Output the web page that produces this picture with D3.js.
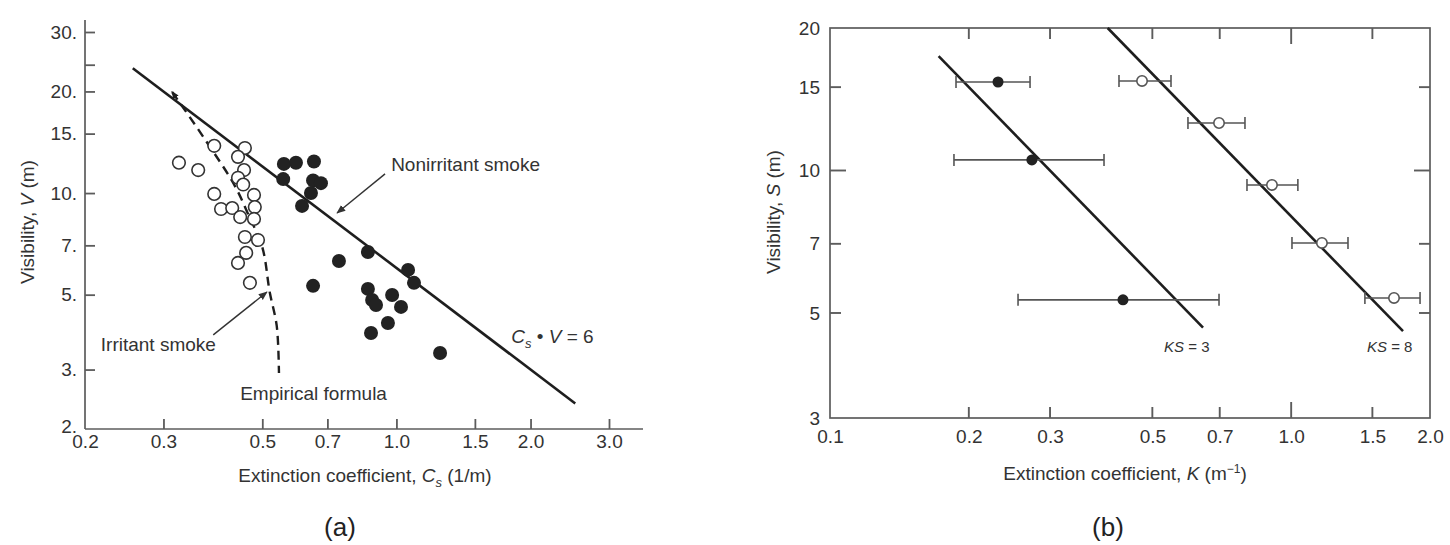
<!DOCTYPE html>
<html>
<head>
<meta charset="utf-8">
<script src="https://cdn.jsdelivr.net/npm/d3@7"></script>
<style>
  body { margin: 0; background: #fff; }
  svg { display: block; font-family: "Liberation Sans", Arial, Helvetica, sans-serif; }
</style>
</head>
<body>
<svg id="chart" width="1450" height="545"></svg>
<script>
// ---------- Panel (a): visibility vs extinction coefficient ----------
const aTicksX = [0.2, 0.3, 0.5, 0.7, 1.0, 1.5, 2.0, 3.0];
const aTickLabelsX = ["0.2", "0.3", "0.5", "0.7", "1.0", "1.5", "2.0", "3.0"];
const aTicksY = [2, 3, 5, 7, 10, 15, 20, 30];
const aTickLabelsY = ["2.", "3.", "5.", "7.", "10.", "15.", "20.", "30."];
const aMinorTicksY = [24];

// Irritant smoke (open circles)
const irritantC = [0.325, 0.359, 0.390, 0.457, 0.441, 0.455, 0.441, 0.453, 0.390, 0.479,
                   0.404, 0.428, 0.481, 0.446, 0.479, 0.457, 0.489, 0.460, 0.441, 0.469];
const irritantV = [12.3, 11.7, 13.8, 13.6, 12.8, 11.7, 11.1, 10.6, 9.94, 9.87,
                   8.97, 9.03, 9.09, 8.49, 8.38, 7.41, 7.26, 6.65, 6.21, 5.42];

// Nonirritant smoke (filled circles)
const nonirritantC = [0.559, 0.595, 0.653, 0.557, 0.650, 0.677, 0.643, 0.614, 0.743, 0.650, 0.863,
                      1.062, 1.095, 0.863, 0.978, 0.882, 0.900, 1.024, 0.957, 0.877, 1.253];
const nonirritantV = [12.2, 12.3, 12.4, 11.0, 10.9, 10.7, 10.0, 9.16, 6.29, 5.31, 6.69,
                      5.92, 5.42, 5.20, 4.99, 4.82, 4.66, 4.60, 4.12, 3.85, 3.36];

// Empirical formula curve for irritant smoke (dashed)
const empiricalC = [0.314, 0.372, 0.439, 0.469, 0.494, 0.520, 0.540, 0.545];
const empiricalV = [19.9, 14.4, 10.2, 8.43, 7.26, 5.06, 3.93, 2.93];

// Nonirritant law: Cs * V = 6
const aLawProduct = 6;
const aLawRangeC = [0.256, 2.52];

// ---------- Panel (b): visibility vs extinction coefficient with error bars ----------
const bTicksX = [0.1, 0.2, 0.3, 0.5, 0.7, 1.0, 1.5, 2.0];
const bTickLabelsX = ["0.1", "0.2", "0.3", "0.5", "0.7", "1.0", "1.5", "2.0"];
const bInnerTicksX = [0.2, 0.3, 0.5, 0.7, 1.0, 1.5];
const bTicksY = [3, 5, 7, 10, 15, 20];
const bTickLabelsY = ["3", "5", "7", "10", "15", "20"];
const bInnerTicksY = [5, 7, 10, 15];

const filledK = [0.2314, 0.274, 0.4318];
const filledS = [15.38, 10.53, 5.33];
const filledKLow = [0.1876, 0.1857, 0.2557];
const filledKHigh = [0.2715, 0.3928, 0.6975];

const openK = [0.4749, 0.6975, 0.9086, 1.166, 1.671];
const openS = [15.46, 12.6, 9.32, 7.03, 5.38];
const openKLow = [0.4233, 0.5973, 0.802, 1.004, 1.445];
const openKHigh = [0.5488, 0.794, 1.034, 1.328, 1.903];

const ksProducts = [3, 8];
const ksRangesK = [[0.172, 0.644], [0.4, 1.748]];
const ksLabelK = [0.530, 1.460];
const ksLabelS = 4.14;

// ---------- styles ----------
const TEXT = "#333";
const AXIS = "#5c5c5c";
const INK = "#1e1e1e";
const FS = 19;

const svg = d3.select("#chart");
const zipPts = (xs, ys) => xs.map((v, i) => ({ x: v, y: ys[i] }));

// ================= Panel (a) =================
const ax = d3.scaleLog().domain([0.2, 3]).range([85, 609]);
const ay = d3.scaleLog().domain([2, 30]).range([429, 32]);
const ga = svg.append("g");

// axis lines (extended past the last ticks)
ga.append("line").attr("x1", ax(0.2)).attr("x2", ax(3) + 34)
  .attr("y1", ay(2)).attr("y2", ay(2)).attr("stroke", AXIS).attr("stroke-width", 1.7);
ga.append("line").attr("x1", ax(0.2)).attr("x2", ax(0.2))
  .attr("y1", ay(2)).attr("y2", ay(30) - 12).attr("stroke", AXIS).attr("stroke-width", 1.7);

const aXAxis = d3.axisBottom(ax).tickValues(aTicksX)
  .tickFormat((d, i) => aTickLabelsX[i]).tickSizeInner(-10).tickSizeOuter(0).tickPadding(6);
const gax = ga.append("g").attr("transform", `translate(0,${ay(2)})`).call(aXAxis);
const aYAxis = d3.axisLeft(ay).tickValues(aTicksY)
  .tickFormat((d, i) => aTickLabelsY[i]).tickSizeInner(-10).tickSizeOuter(0).tickPadding(8);
const gay = ga.append("g").attr("transform", `translate(${ax(0.2)},0)`).call(aYAxis);
ga.append("g").attr("transform", `translate(${ax(0.2)},0)`)
  .call(d3.axisLeft(ay).tickValues(aMinorTicksY).tickFormat("").tickSizeInner(-10).tickSizeOuter(0));

[gax, gay].forEach(g => {
  g.selectAll(".tick text").attr("fill", TEXT).style("font-size", FS + "px");
});
ga.selectAll(".domain").remove();
ga.selectAll(".tick line").attr("stroke", AXIS).attr("stroke-width", 1.8);
// the 0.2 / 2. ticks sit on the axis lines themselves
gax.selectAll(".tick").filter(d => d === 0.2).select("line").remove();
gay.selectAll(".tick").filter(d => d === 2).select("line").remove();
gay.selectAll(".tick").filter(d => d === 2).select("text").attr("dy", "0.2em");

// Cs * V = 6 line
const aLine = d3.line().x(d => ax(d.x)).y(d => ay(d.y));
ga.append("path")
  .datum(aLawRangeC.map(c => ({ x: c, y: aLawProduct / c })))
  .attr("d", aLine).attr("fill", "none").attr("stroke", INK).attr("stroke-width", 2.6);

// arrow markers
const defs = svg.append("defs");
defs.append("marker").attr("id", "arrow").attr("viewBox", "0 0 10 10")
  .attr("refX", 9).attr("refY", 5).attr("markerWidth", 9).attr("markerHeight", 9)
  .attr("markerUnits", "userSpaceOnUse").attr("orient", "auto-start-reverse")
  .append("path").attr("d", "M0,1 L10,5 L0,9 Z").attr("fill", "#333");
defs.append("marker").attr("id", "tip").attr("viewBox", "0 0 10 10")
  .attr("refX", 8).attr("refY", 5).attr("markerWidth", 8).attr("markerHeight", 8)
  .attr("markerUnits", "userSpaceOnUse").attr("orient", "auto-start-reverse")
  .append("path").attr("d", "M0,1 L10,5 L0,9 Z").attr("fill", INK);

// empirical (dashed) curve
ga.append("path")
  .datum(zipPts(empiricalC, empiricalV))
  .attr("d", d3.line().x(d => ax(d.x)).y(d => ay(d.y)).curve(d3.curveMonotoneY))
  .attr("fill", "none").attr("stroke", INK).attr("stroke-width", 2.4)
  .attr("stroke-dasharray", "9,6").attr("marker-start", "url(#tip)");

// points
ga.append("g").selectAll("circle").data(zipPts(irritantC, irritantV)).join("circle")
  .attr("cx", d => ax(d.x)).attr("cy", d => ay(d.y)).attr("r", 6.3)
  .attr("fill", "#fff").attr("stroke", "#333").attr("stroke-width", 1.6);
ga.append("g").selectAll("circle").data(zipPts(nonirritantC, nonirritantV)).join("circle")
  .attr("cx", d => ax(d.x)).attr("cy", d => ay(d.y)).attr("r", 7)
  .attr("fill", "#222");

// annotations
const annLine = (c1, v1, c2, v2) => ga.append("line")
  .attr("x1", ax(c1)).attr("y1", ay(v1)).attr("x2", ax(c2)).attr("y2", ay(v2))
  .attr("stroke", "#333").attr("stroke-width", 1.4).attr("marker-end", "url(#arrow)");
annLine(0.943, 11.4, 0.736, 8.73);
annLine(0.388, 3.80, 0.512, 5.09);

const annText = (c, v, s) => ga.append("text").attr("x", ax(c)).attr("y", ay(v))
  .attr("fill", TEXT).style("font-size", FS + "px").text(s);
annText(0.973, 11.6, "Nonirritant smoke");
annText(0.217, 3.41, "Irritant smoke");
annText(0.446, 2.44, "Empirical formula");

const law = ga.append("text").attr("x", ax(1.81)).attr("y", ay(3.60))
  .attr("fill", TEXT).style("font-size", FS + "px");
law.append("tspan").attr("font-style", "italic").text("C");
law.append("tspan").attr("font-style", "italic").attr("dy", 5).style("font-size", "13px").text("s");
law.append("tspan").attr("dy", -5).text(" \u2022 ");
law.append("tspan").attr("font-style", "italic").text("V");
law.append("tspan").text(" = 6");

// axis titles
const aTitleX = ga.append("text").attr("x", 365).attr("y", 482).attr("text-anchor", "middle")
  .attr("fill", TEXT).style("font-size", FS + "px");
aTitleX.append("tspan").text("Extinction coefficient, ");
aTitleX.append("tspan").attr("font-style", "italic").text("C");
aTitleX.append("tspan").attr("font-style", "italic").attr("dy", 5).style("font-size", "13px").text("s");
aTitleX.append("tspan").attr("dy", -5).text(" (1/m)");

const aTitleY = ga.append("text").attr("transform", "translate(34,222) rotate(-90)")
  .attr("text-anchor", "middle").attr("fill", TEXT).style("font-size", FS + "px");
aTitleY.append("tspan").text("Visibility, ");
aTitleY.append("tspan").attr("font-style", "italic").text("V");
aTitleY.append("tspan").text(" (m)");

svg.append("text").attr("x", 340).attr("y", 536).attr("text-anchor", "middle")
  .attr("fill", "#222").style("font-size", "26px").text("(a)");

// ================= Panel (b) =================
const bx = d3.scaleLog().domain([0.1, 2]).range([830, 1430]);
const by = d3.scaleLog().domain([3, 20]).range([418, 28]);
const gb = svg.append("g");

gb.append("rect").attr("x", bx(0.1)).attr("y", by(20))
  .attr("width", bx(2) - bx(0.1)).attr("height", by(3) - by(20))
  .attr("fill", "none").attr("stroke", AXIS).attr("stroke-width", 1.7);

// inward ticks on all four sides of the frame; the 1.0 and 10 ticks are longer
const tickLen = v => (v === 1.0 || v === 10) ? 16 : 11;
const gt = gb.append("g").attr("stroke", AXIS).attr("stroke-width", 1.9);
bInnerTicksX.forEach(v => {
  const xv = bx(v), L = tickLen(v);
  gt.append("line").attr("x1", xv).attr("x2", xv).attr("y1", by(3)).attr("y2", by(3) - L);
  gt.append("line").attr("x1", xv).attr("x2", xv).attr("y1", by(20)).attr("y2", by(20) + L);
});
bInnerTicksY.forEach(v => {
  const yv = by(v), L = tickLen(v);
  gt.append("line").attr("x1", bx(0.1)).attr("x2", bx(0.1) + L).attr("y1", yv).attr("y2", yv);
  gt.append("line").attr("x1", bx(2)).attr("x2", bx(2) - L).attr("y1", yv).attr("y2", yv);
});

// tick labels
const bXLabels = gb.append("g").attr("transform", `translate(0,${by(3)})`)
  .call(d3.axisBottom(bx).tickValues(bTicksX).tickFormat((d, i) => bTickLabelsX[i])
    .tickSize(0).tickPadding(12));
const bYLabels = gb.append("g").attr("transform", `translate(${bx(0.1)},0)`)
  .call(d3.axisLeft(by).tickValues(bTicksY).tickFormat((d, i) => bTickLabelsY[i])
    .tickSize(0).tickPadding(10));
[bXLabels, bYLabels].forEach(g => {
  g.select(".domain").remove();
  g.selectAll(".tick line").remove();
  g.selectAll(".tick text").attr("fill", TEXT).style("font-size", FS + "px");
});

// KS lines
const bLine = d3.line().x(d => bx(d.x)).y(d => by(d.y));
ksProducts.forEach((p, i) => {
  gb.append("path")
    .datum(ksRangesK[i].map(k => ({ x: k, y: p / k })))
    .attr("d", bLine).attr("fill", "none").attr("stroke", INK).attr("stroke-width", 2.6);
  const t = gb.append("text").attr("x", bx(ksLabelK[i])).attr("y", by(ksLabelS))
    .attr("fill", TEXT).style("font-size", "15px");
  t.append("tspan").attr("font-style", "italic").text("KS");
  t.append("tspan").text(" = " + p);
});

// error bars + points
const drawBars = (ks, ss, lo, hi) => {
  const g = gb.append("g").attr("stroke", "#555").attr("stroke-width", 1.6).attr("fill", "none");
  ks.forEach((k, i) => {
    const yv = by(ss[i]);
    g.append("line").attr("x1", bx(lo[i])).attr("x2", bx(hi[i])).attr("y1", yv).attr("y2", yv);
    [lo[i], hi[i]].forEach(e => g.append("line")
      .attr("x1", bx(e)).attr("x2", bx(e)).attr("y1", yv - 6).attr("y2", yv + 6));
  });
};
drawBars(filledK, filledS, filledKLow, filledKHigh);
drawBars(openK, openS, openKLow, openKHigh);

gb.append("g").selectAll("circle").data(zipPts(filledK, filledS)).join("circle")
  .attr("cx", d => bx(d.x)).attr("cy", d => by(d.y)).attr("r", 5.5).attr("fill", "#222");
gb.append("g").selectAll("circle").data(zipPts(openK, openS)).join("circle")
  .attr("cx", d => bx(d.x)).attr("cy", d => by(d.y)).attr("r", 5.2)
  .attr("fill", "#fff").attr("stroke", "#555").attr("stroke-width", 1.6);

// axis titles
const bTitleX = gb.append("text").attr("x", 1125).attr("y", 480).attr("text-anchor", "middle")
  .attr("fill", TEXT).style("font-size", FS + "px");
bTitleX.append("tspan").text("Extinction coefficient, ");
bTitleX.append("tspan").attr("font-style", "italic").text("K");
bTitleX.append("tspan").text(" (m");
bTitleX.append("tspan").attr("dy", -7).style("font-size", "12px").text("\u22121");
bTitleX.append("tspan").attr("dy", 7).text(")");

const bTitleY = gb.append("text").attr("transform", "translate(780,212) rotate(-90)")
  .attr("text-anchor", "middle").attr("fill", TEXT).style("font-size", FS + "px");
bTitleY.append("tspan").text("Visibility, ");
bTitleY.append("tspan").attr("font-style", "italic").text("S");
bTitleY.append("tspan").text(" (m)");

svg.append("text").attr("x", 1108).attr("y", 536).attr("text-anchor", "middle")
  .attr("fill", "#222").style("font-size", "26px").text("(b)");
</script>
</body>
</html>
